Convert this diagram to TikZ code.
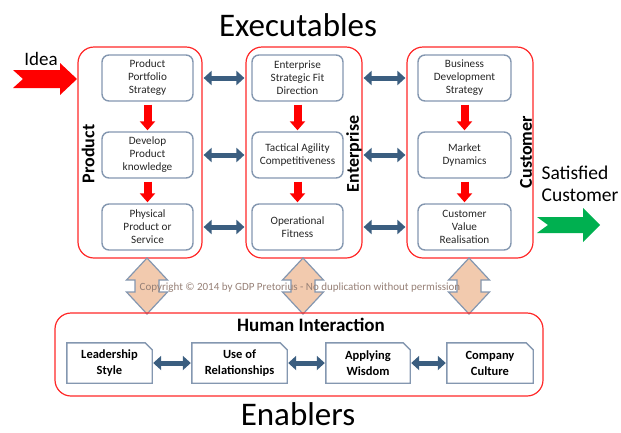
\documentclass[tikz,border=0pt]{standalone}
\usepackage{fontspec}
\setmainfont{Carlito}
\usetikzlibrary{arrows.meta}

\definecolor{framered}{RGB}{255,40,40}
\definecolor{boxline}{RGB}{132,151,176}
\definecolor{linkblue}{RGB}{59,94,128}
\definecolor{peach}{RGB}{242,202,174}
\definecolor{okgreen}{RGB}{0,176,80}
\definecolor{notegray}{RGB}{150,128,118}

\begin{document}
\begin{tikzpicture}[x=1pt, y=-1pt,
    group/.style={draw=framered, line width=1.2pt, rounded corners=16pt},
    grouplabel/.style={rotate=90, font=\bfseries\fontsize{18}{20}\selectfont},
    stepbox/.style={draw=boxline, line width=1.4pt, rounded corners=7pt, minimum width=91pt,
        minimum height=46pt, align=center, text=black!85, font=\fontsize{11.2}{13}\selectfont},
    skillbox/.style={minimum height=40pt, align=center, font=\bfseries\fontsize{12.5}{16}\selectfont},
    downarrow/.style={draw=red, line width=8pt, -{Triangle[length=9pt,width=15pt]}, shorten <=3pt, shorten >=1pt},
    linkarrow/.style={draw=linkblue, line width=5pt, {Triangle[length=8pt,width=14pt]}-{Triangle[length=8pt,width=14pt]},
        shorten <=1pt, shorten >=1pt},
    title/.style={inner sep=0pt, font=\fontsize{33}{36}\selectfont}]
\useasboundingbox (0,0) rectangle (621,432);

\node[title, anchor=base] (exec) at (298,36) {Executables};
\node[title, anchor=base] (enab) at (298,425) {Enablers};

% the three columns
\node[group, minimum width=124pt, minimum height=211pt] (prod) at (140,152.5) {};
\node[group, minimum width=116pt, minimum height=211pt] (ent) at (304,152.5) {};
\node[group, minimum width=126pt, minimum height=211pt] (cust) at (470,152.5) {};
\node[grouplabel] (prodlabel) at (88,154) {Product};
\node[grouplabel] (entlabel) at (354,154) {Enterprise};
\node[grouplabel] (custlabel) at (526,152) {Customer};

\node[stepbox] (p1) at (147.5,78) {Product\\Portfolio\\Strategy};
\node[stepbox] (p2) at (147.5,155) {Develop\\Product\\knowledge};
\node[stepbox] (p3) at (147.5,227) {Physical\\Product or\\Service};
\node[stepbox] (e1) at (297.5,78) {Enterprise\\Strategic Fit\\Direction};
\node[stepbox] (e2) at (297.5,155) {Tactical Agility\\Competitiveness};
\node[stepbox] (e3) at (297.5,227) {Operational\\Fitness};
\node[stepbox, minimum width=93pt] (c1) at (464.5,78) {Business\\Development\\Strategy};
\node[stepbox, minimum width=93pt] (c2) at (464.5,155) {Market\\Dynamics};
\node[stepbox, minimum width=93pt] (c3) at (464.5,227) {Customer\\Value\\Realisation};

\foreach \c in {p,e,c} {
    \draw[downarrow] (\c1) -- (\c2);
    \draw[downarrow] (\c2) -- (\c3);
}
\foreach \r in {1,2,3} {
    \draw[linkarrow] (p\r.east -| prod.east) -- (e\r.west -| ent.west);
    \draw[linkarrow] (e\r.east -| ent.east) -- (c\r.west -| cust.west);
}

% in and out
\node[font=\fontsize{19}{22}\selectfont, anchor=base] (idea) at (41,65) {Idea};
\fill[red] (13,70) -- (23,79) -- (13,88) -- (60,88) -- (60,95) -- (77,79) -- (60,63) -- (60,70) -- cycle;
\node[font=\fontsize{19.5}{22}\selectfont, align=left] (sat) at (580,184) {Satisfied\\Customer};
\fill[okgreen] (537,217) -- (548,225) -- (537,233) -- (583,233) -- (583,242) -- (600,225) -- (583,208) -- (583,217) -- cycle;

% links down to the enablers
\foreach \x in {147,303,469}
    \filldraw[fill=peach, draw=boxline, line width=1.2pt] (\x,258) -- (\x-20.5,280) -- (\x-12,280) -- (\x-12,292)
        -- (\x-20.5,292) -- (\x,314) -- (\x+20.5,292) -- (\x+12,292) -- (\x+12,280) -- (\x+20.5,280) -- cycle;
\node[text=notegray, font=\fontsize{11}{12}\selectfont] (note) at (300,288)
    {Copyright © 2014 by GDP Pretorius - No duplication without permission};

% enablers
\node[group, minimum width=488pt, minimum height=83pt] (human) at (299,354.5) {};
\node[font=\bfseries\fontsize{19}{21}\selectfont] (humantitle) at (311,325) {Human Interaction};
\node[skillbox, minimum width=85pt] (lead) at (109.5,363) {Leadership\\Style};
\node[skillbox, minimum width=95pt] (rel) at (239.5,363) {Use of\\Relationships};
\node[skillbox, minimum width=84pt] (wis) at (368,363) {Applying\\Wisdom};
\node[skillbox, minimum width=86pt] (cul) at (490,363) {Company\\Culture};
\foreach \n in {lead,rel,wis,cul}
    \draw[boxline, line width=1.4pt] (\n.south west) -- (\n.north west) -- ([xshift=-7pt]\n.north east)
        -- ([yshift=-7pt]\n.north east) -- (\n.south east) -- cycle;
\draw[linkarrow] (lead) -- (rel);
\draw[linkarrow] (rel) -- (wis);
\draw[linkarrow] (wis) -- (cul);
\end{tikzpicture}
\end{document}
